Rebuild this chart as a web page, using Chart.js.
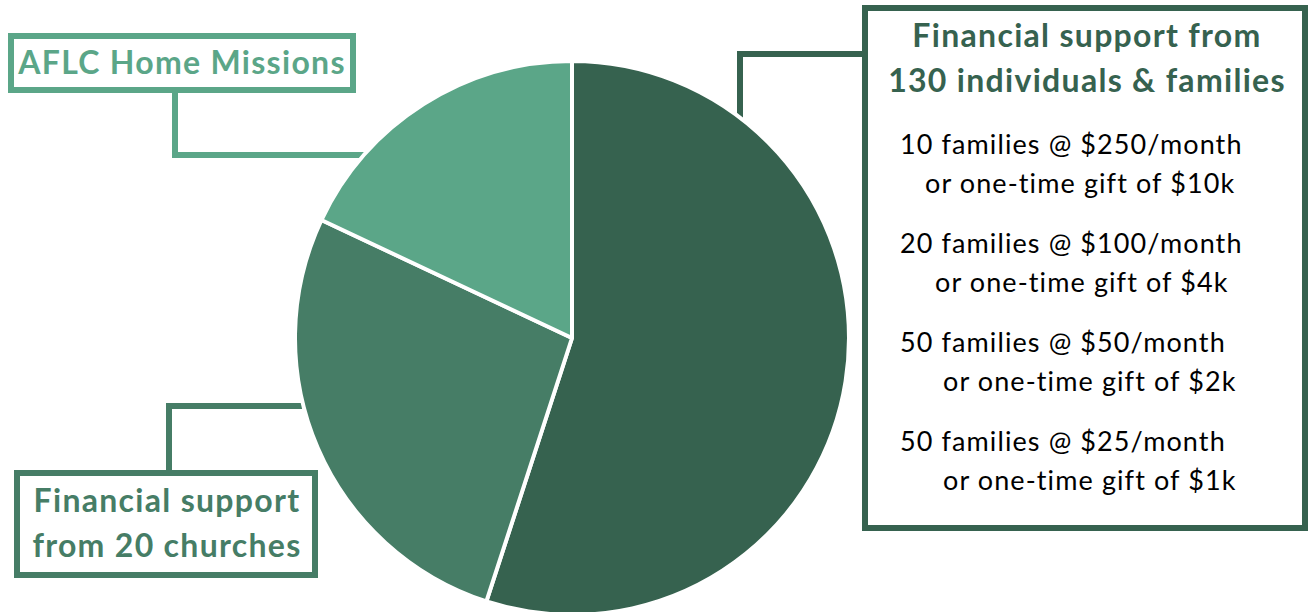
<!DOCTYPE html>
<html>
<head>
<meta charset="utf-8">
<script src="https://cdn.jsdelivr.net/npm/chart.js@4/dist/chart.umd.min.js"></script>
<style>
  html, body { margin: 0; padding: 0; background: #fff; overflow: hidden; }
  body { width: 1310px; height: 612px; position: relative; font-family: Lato, "Open Sans", sans-serif; }
  #pieWrap { position: absolute; left: 293px; top: 59px; width: 558px; height: 558px; z-index: 2; }
  .box { position: absolute; box-sizing: border-box; background: #fff; border: 6px solid; z-index: 3; }
  .line { position: absolute; box-sizing: border-box; z-index: 1; }
  .t { position: absolute; white-space: nowrap; z-index: 4; }
  .head { font-weight: bold; font-size: 32px; letter-spacing: 1.3px; }
  .body { color: #000; font-size: 27px; letter-spacing: 1.1px; }
</style>
</head>
<body>
<div id="pieWrap"><canvas id="pie"></canvas></div>

<!-- connectors -->
<div class="line" style="left:172px; top:90px; width:200px; height:68px; border-left:6px solid #5BA688; border-bottom:6px solid #5BA688;"></div>
<div class="line" style="left:166px; top:403px; width:150px; height:70px; border-left:6px solid #467D66; border-top:6px solid #467D66;"></div>
<div class="line" style="left:737px; top:51px; width:128px; height:80px; border-left:6px solid #36624F; border-top:6px solid #36624F;"></div>

<!-- label boxes -->
<div class="box" style="left:8px; top:33px; width:348px; height:60px; border-color:#5BA688;"></div>
<div class="box" style="left:14px; top:470px; width:304px; height:108px; border-color:#467D66;"></div>
<div class="box" style="left:862px; top:5px; width:446px; height:526px; border-color:#36624F;"></div>

<div id="labels"></div>

<script>
const categories = ['Financial support from 130 individuals & families', 'Financial support from 20 churches', 'AFLC Home Missions'];
const shares = [55, 27, 18];
const colors = ['#36624F', '#467D66', '#5BA688'];

const familyTiers = [
    ['10 families @ $250/month', 'or one-time gift of $10k'],
    ['20 families @ $100/month', 'or one-time gift of $4k'],
    ['50 families @ $50/month', 'or one-time gift of $2k'],
    ['50 families @ $25/month', 'or one-time gift of $1k'],
];

const ctx = document.getElementById('pie').getContext('2d');

const myChart = new Chart(ctx, {
    type: 'pie',
    data: {
        labels: categories,
        datasets: [
            {
                data: shares,
                backgroundColor: colors,
                borderColor: '#ffffff',
                borderWidth: 4,
            },
        ],
    },
    options: {
        responsive: true,
        maintainAspectRatio: false,
        animation: false,
        layout: { padding: 0 },
        plugins: {
            legend: { display: false },
            tooltip: { enabled: false },
        },
    },
});

// label text
const labels = document.getElementById('labels');
function addText(txt, x, y, style) {
    const d = document.createElement('div');
    d.className = 't ' + (style.cls || '');
    d.textContent = txt;
    d.style.left = x + 'px';
    d.style.top = y + 'px';
    if (style.color) d.style.color = style.color;
    if (style.center) d.style.transform = 'translateX(-50%)';
    labels.appendChild(d);
}

addText('AFLC Home Missions', 182, 42, { cls: 'head', color: colors[2], center: true });
addText('Financial support', 167, 480, { cls: 'head', color: colors[1], center: true });
addText('from 20 churches', 167, 525, { cls: 'head', color: colors[1], center: true });
addText('Financial support from', 1087, 15, { cls: 'head', color: colors[0], center: true });
addText('130 individuals & families', 1087, 60, { cls: 'head', color: colors[0], center: true });

const indents = [25, 35, 43, 43];
familyTiers.forEach((pair, i) => {
    const y = 127 + i * 99;
    addText(pair[0], 900, y, { cls: 'body' });
    addText(pair[1], 900 + indents[i], y + 39, { cls: 'body' });
});
</script>
</body>
</html>
